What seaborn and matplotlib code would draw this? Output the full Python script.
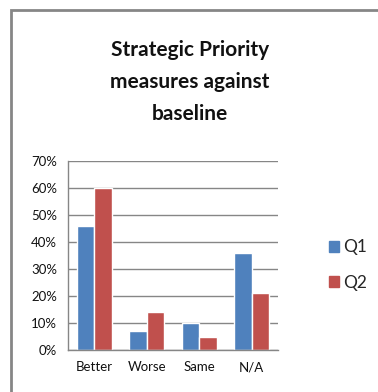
import matplotlib
matplotlib.use("Agg")
import matplotlib.pyplot as plt
import seaborn as sns
import pandas as pd
from matplotlib.patches import Rectangle
from matplotlib.ticker import PercentFormatter

# Data
categories = ["Better", "Worse", "Same", "N/A"]
q1 = [46, 7, 10, 36]
q2 = [60, 14, 5, 21]
series = ["Q1", "Q2"]
colors = ["#4F81BD", "#C0504D"]

df = pd.DataFrame({
    "category": categories * 2,
    "value": q1 + q2,
    "quarter": ["Q1"] * len(q1) + ["Q2"] * len(q2),
})

sns.set_style("white")
plt.rcParams["font.family"] = ["Lato", "DejaVu Sans"]

fig = plt.figure(figsize=(3.78, 3.92), dpi=100)
ax = fig.add_axes([68 / 378, 1 - 350 / 392, 210 / 378, 189 / 392])

sns.barplot(data=df, x="category", y="value", hue="quarter",
            palette=colors, width=0.67, saturation=1, ax=ax, legend=False)

ax.set_ylim(0, 70)
ax.set_yticks(range(0, 71, 10))
ax.yaxis.set_major_formatter(PercentFormatter(decimals=0))
ax.set_xlim(-0.5, 3.5)
ax.set_xlabel("")
ax.set_ylabel("")
ax.grid(axis="y", color="#868686", linewidth=1.0)
ax.set_axisbelow(True)
for s in ["top", "right"]:
    ax.spines[s].set_visible(False)
for s in ["left", "bottom"]:
    ax.spines[s].set_color("#868686")
    ax.spines[s].set_linewidth(1.0)
ax.tick_params(axis="x", length=0, labelsize=9.5, pad=8, colors="#111111")
ax.set_xticks([0.5, 1.5, 2.5, 3.5], minor=True)
ax.tick_params(axis="x", which="minor", length=4, color="#868686")
ax.tick_params(axis="y", length=3, color="#868686", labelsize=9.5, pad=5, colors="#111111")

# title
fig.text(190 / 378, 1 - 82 / 392, "Strategic Priority\nmeasures against\nbaseline",
         ha="center", va="center", fontsize=15, fontweight="bold",
         linespacing=1.78, color="#111111")

# legend
handles = [Rectangle((0, 0), 1, 1, color=c) for c in colors]
fig.legend(handles, series, loc="center left", bbox_to_anchor=(313 / 378, 1 - 265 / 392),
           frameon=False, fontsize=12.5, handlelength=0.6, handleheight=0.6,
           handletextpad=0.25, labelspacing=1.1)

# chart frame
fig.add_artist(Rectangle((11 / 378, -0.05), 1.0, 1 - 10 / 392 + 0.05,
                         transform=fig.transFigure, fill=False,
                         edgecolor="#868686", linewidth=2.0))

fig.savefig("out.png", dpi=100)
